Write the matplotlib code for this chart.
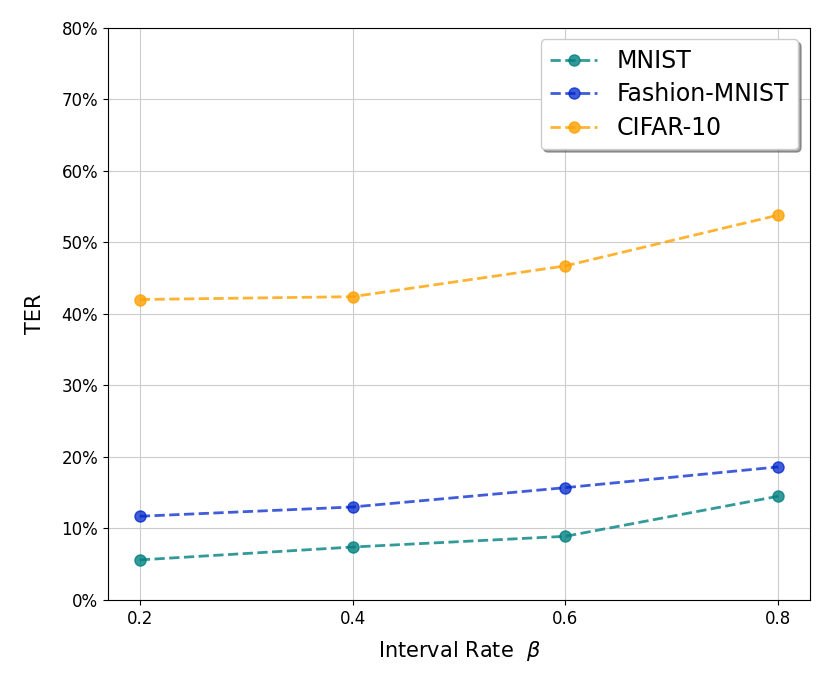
import matplotlib.pyplot as plt
from matplotlib.ticker import PercentFormatter

rates = [0.2, 0.4, 0.6, 0.8]
mnist = [5.6, 7.4, 8.9, 14.5]
fashion = [11.7, 13.0, 15.7, 18.6]
cifar = [42.0, 42.4, 46.7, 53.8]

fig, ax = plt.subplots(figsize=(8.3, 6.92), dpi=100)
fig.subplots_adjust(left=0.13, right=0.976, top=0.96, bottom=0.133)

ax.plot(rates, mnist, '--o', color='#008080', alpha=0.8, lw=2, ms=8, label='MNIST')
ax.plot(rates, fashion, '--o', color='#0026CC', alpha=0.75, lw=2, ms=8, label='Fashion-MNIST')
ax.plot(rates, cifar, '--o', color='#FFA000', alpha=0.8, lw=2, ms=8, label='CIFAR-10')

ax.set_ylim(0, 80)
ax.set_xticks(rates)
ax.yaxis.set_major_formatter(PercentFormatter(decimals=0))
ax.tick_params(labelsize=12)
ax.grid(True, color='#cccccc')
ax.set_xlabel(r'Interval Rate  $\beta$', fontsize=15, labelpad=8)
ax.set_ylabel('TER', fontsize=15, labelpad=12)
ax.legend(fontsize=17, shadow=True, loc='upper right', labelspacing=0.4, handlelength=2.0)

plt.savefig('out.png')
